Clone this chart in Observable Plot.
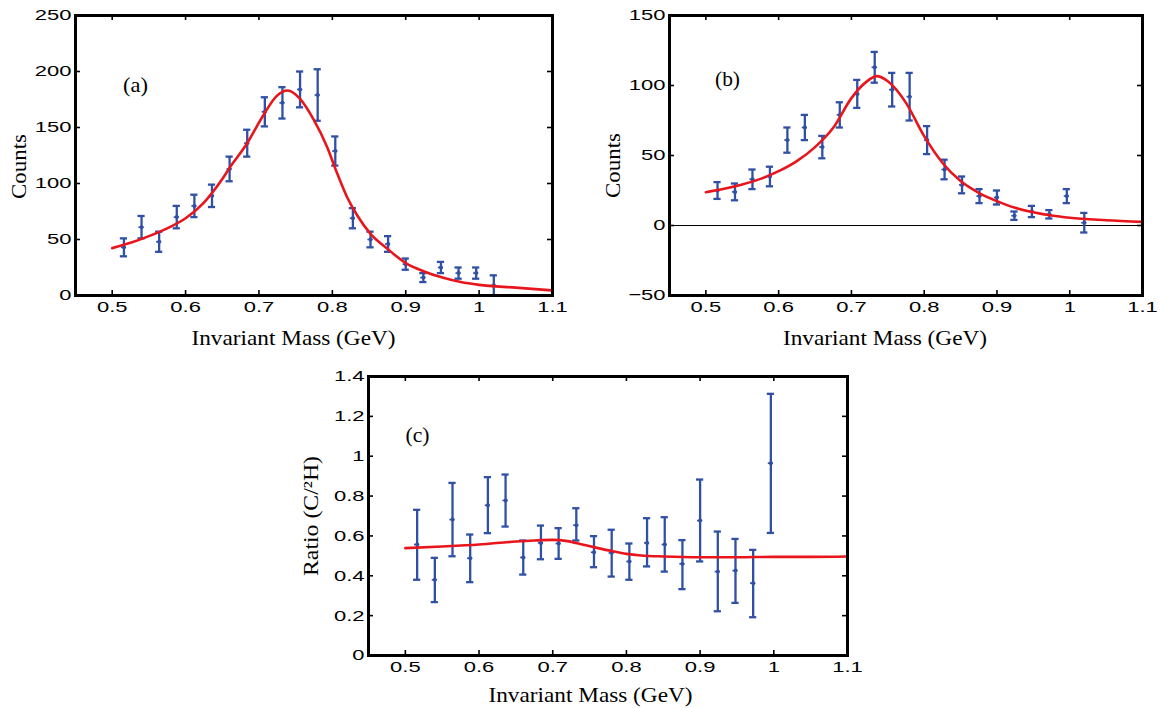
<!DOCTYPE html>
<html>
<head>
<meta charset="utf-8">
<script src="https://cdn.jsdelivr.net/npm/d3@7"></script>
<script src="https://cdn.jsdelivr.net/npm/@observablehq/plot@0.6"></script>
<style>
  html, body { margin: 0; padding: 0; background: #fff; }
  #wrap { position: relative; width: 1160px; height: 708px; overflow: hidden; background: #fff; }
  #wrap svg { position: absolute; overflow: visible; }
</style>
</head>
<body>
<div id="wrap"></div>
<script>
// ---------- data ----------
const massBins = [0.516, 0.540, 0.564, 0.588, 0.612, 0.636, 0.660, 0.684, 0.708, 0.732, 0.756,
                  0.780, 0.804, 0.828, 0.852, 0.876, 0.900, 0.924, 0.948, 0.972, 0.996, 1.020];

// (a) counts
const countsA = [43, 61, 48, 70, 80, 89, 113, 136, 164, 172, 184, 179, 129, 69, 50, 46, 28, 16, 25, 20, 20, 9];
const errA    = [8, 10, 9, 10, 10, 10, 11, 12, 13, 14, 16, 23, 13, 9, 7, 7, 5, 4, 5, 5, 5, 9];
const fitMassA   = [0.50, 0.525, 0.55, 0.575, 0.60, 0.625, 0.65, 0.66, 0.683, 0.706, 0.724, 0.739, 0.756, 0.774, 0.793, 0.806, 0.82, 0.834, 0.852, 0.875, 0.90, 0.925, 0.95, 0.975, 1.0, 1.05, 1.1];
const fitCountsA = [42.3, 47, 53, 60, 69, 83, 104, 114, 135, 161, 178, 183, 175.6, 157.7, 132.4, 110, 88, 71.4, 55, 41.7, 29, 21.5, 16, 12, 9.5, 7, 4.5];

// (b) counts
const countsB = [25, 24, 33, 35, 61, 70, 56, 79, 94, 113, 97, 92, 61, 40, 29, 21, 20, 7, 10, 8, 21, 2];
const errB    = [6, 6, 7, 7, 9, 9, 8, 9, 10, 11, 12, 17, 10, 7, 6, 5, 5, 3, 4, 3, 5, 7];
const fitMassB   = [0.50, 0.525, 0.55, 0.575, 0.60, 0.625, 0.65, 0.675, 0.70, 0.72, 0.735, 0.75, 0.775, 0.80, 0.825, 0.85, 0.875, 0.90, 0.925, 0.95, 0.975, 1.0, 1.05, 1.1];
const fitCountsB = [23.8, 26.2, 29.3, 33.3, 38.8, 46, 56, 69.8, 91, 102.4, 106.7, 103, 87.6, 63.8, 44.8, 31.7, 23.3, 17.4, 12.6, 9.5, 7.1, 5.5, 3.8, 2.6];

// (c) ratio C/2H
const ratioC     = [0.557, 0.380, 0.682, 0.488, 0.754, 0.778, 0.492, 0.565, 0.562, 0.654, 0.518, 0.515, 0.472, 0.565, 0.557, 0.460, 0.677, 0.421, 0.426, 0.363, 0.965];
const ratioLowC  = [0.380, 0.268, 0.498, 0.368, 0.614, 0.647, 0.406, 0.483, 0.485, 0.577, 0.443, 0.396, 0.380, 0.447, 0.421, 0.333, 0.472, 0.222, 0.264, 0.192, 0.615];
const ratioHighC = [0.731, 0.490, 0.866, 0.607, 0.895, 0.908, 0.577, 0.652, 0.639, 0.739, 0.599, 0.631, 0.562, 0.689, 0.694, 0.579, 0.883, 0.622, 0.585, 0.530, 1.313];
const fitMassC  = [0.50, 0.55, 0.60, 0.65, 0.675, 0.70, 0.72, 0.74, 0.76, 0.78, 0.80, 0.82, 0.85, 0.90, 0.95, 1.0, 1.05, 1.1];
const fitRatioC = [0.539, 0.547, 0.557, 0.572, 0.577, 0.580, 0.574, 0.557, 0.540, 0.524, 0.510, 0.502, 0.497, 0.493, 0.493, 0.495, 0.495, 0.497];

// ticks & labels
const xTicks  = [0.5, 0.6, 0.7, 0.8, 0.9, 1, 1.1];
const yTicksA = [0, 50, 100, 150, 200, 250];
const yTicksB = [-50, 0, 50, 100, 150];
const yTicksC = [0, 0.2, 0.4, 0.6, 0.8, 1, 1.2, 1.4];
const xLabel  = "Invariant Mass (GeV)";
const yLabelAB = "Counts";
const yLabelC  = "Ratio (C/²H)";
const tags = ["(a)", "(b)", "(c)"];

// ---------- style ----------
const BLUE = "#3050a6";
const RED = "#e8161c";
const SANS = "'Liberation Sans', Arial, Helvetica, sans-serif";
const SERIF = "'Liberation Serif', 'Times New Roman', serif";
const TICK_FS = 15.5;
const TICK_LEN = 5;
const fmt = d => (d < 0 ? "\u2212" + Math.abs(d) : String(d));

function makePanel(cfg) {
  const pts = cfg.x.map((x, i) => ({x, y: cfg.y[i], lo: cfg.lo[i], hi: cfg.hi[i]}));
  const fit = cfg.fx.map((x, i) => ({x, y: cfg.fy[i]}));
  const innerW = cfg.width - cfg.m[1] - cfg.m[3];
  const innerH = cfg.height - cfg.m[0] - cfg.m[2];
  const tickStyle = {stroke: "#000", strokeWidth: 1.6};
  const marks = [];
  if (cfg.zeroLine) marks.push(Plot.ruleY([0], {stroke: "#000", strokeWidth: 1}));
  marks.push(
    Plot.ruleX(pts, {x: "x", y1: "lo", y2: "hi", stroke: BLUE, strokeWidth: 2.3}),
    Plot.ruleY(pts, {y: "lo", x1: "x", x2: "x", insetLeft: -3.6, insetRight: -3.6, stroke: BLUE, strokeWidth: 2.3}),
    Plot.ruleY(pts, {y: "hi", x1: "x", x2: "x", insetLeft: -3.6, insetRight: -3.6, stroke: BLUE, strokeWidth: 2.3}),
    Plot.ruleY(pts, {y: "y", x1: "x", x2: "x", insetLeft: -2.6, insetRight: -2.6, stroke: BLUE, strokeWidth: 1.6}),
    Plot.dot(pts, {x: "x", y: "y", r: 2, fill: BLUE}),
    Plot.line(fit, {x: "x", y: "y", stroke: RED, strokeWidth: 2.6, curve: "monotone-x"}),
    // tick labels
    Plot.axisX(xTicks, {anchor: "bottom", tickSize: 0, tickPadding: 5, tickFormat: fmt, label: null, fontSize: TICK_FS}),
    Plot.axisY(cfg.yTicks, {anchor: "left", tickSize: 0, tickPadding: 4, tickFormat: fmt, label: null, fontSize: TICK_FS}),
    // inward ticks on all four sides
    Plot.ruleX(xTicks, {x: d => d, insetTop: innerH - TICK_LEN, ...tickStyle}),
    Plot.ruleX(xTicks, {x: d => d, insetBottom: innerH - TICK_LEN, ...tickStyle}),
    Plot.ruleY(cfg.yTicks, {y: d => d, insetRight: innerW - TICK_LEN, ...tickStyle}),
    Plot.ruleY(cfg.yTicks, {y: d => d, insetLeft: innerW - TICK_LEN, ...tickStyle}),
    Plot.text([cfg.tag], {text: d => d, frameAnchor: "top-left", textAnchor: "middle", dx: cfg.tagDx, dy: cfg.tagDy, fontFamily: SERIF, fontSize: 21}),
    Plot.text([xLabel], {text: d => d, frameAnchor: "bottom", textAnchor: "middle", dx: cfg.xlDx, dy: cfg.xlDy, fontFamily: SERIF, fontSize: 22}),
    Plot.text([cfg.yLabel], {text: d => d, frameAnchor: "left", textAnchor: "middle", rotate: -90, dx: cfg.ylDx, dy: cfg.ylDy, fontFamily: SERIF, fontSize: 22}),
    Plot.frame({stroke: "#000", strokeWidth: 3})
  );
  const svg = Plot.plot({
    width: cfg.width, height: cfg.height,
    marginLeft: cfg.m[3], marginRight: cfg.m[1], marginTop: cfg.m[0], marginBottom: cfg.m[2],
    x: {domain: [0.45, 1.1]},
    y: {domain: cfg.yDomain},
    style: {fontFamily: SANS, fontSize: TICK_FS + "px", color: "#000", background: "transparent", overflow: "visible"},
    marks
  });
  svg.style.left = cfg.left + "px";
  svg.style.top = cfg.top + "px";
  document.getElementById("wrap").appendChild(svg);
  // widen tick text to the reference's proportions
  svg.querySelectorAll('g[aria-label="x-axis tick label"] text, g[aria-label="y-axis tick label"] text').forEach(t => {
    const w = t.getComputedTextLength();
    if (w > 0) { t.setAttribute("textLength", (w * 1.42).toFixed(1)); t.setAttribute("lengthAdjust", "spacingAndGlyphs"); }
  });
  const widths = {"Invariant Mass (GeV)": 204, "Counts": 65, "Ratio (C/²H)": 120, "(a)": 25, "(b)": 25, "(c)": 24};
  svg.querySelectorAll("text").forEach(t => {
    const s = t.textContent;
    if (widths[s]) { t.setAttribute("textLength", widths[s]); t.setAttribute("lengthAdjust", "spacingAndGlyphs"); }
  });
}

makePanel({
  left: 0, top: 0, width: 575, height: 360, m: [15, 23, 65, 75],
  x: massBins, y: countsA, lo: countsA.map((v, i) => v - errA[i]), hi: countsA.map((v, i) => v + errA[i]),
  fx: fitMassA, fy: fitCountsA, yDomain: [0, 250], yTicks: yTicksA,
  tag: tags[0], tagDx: 60, tagDy: 62,
  xlDx: -20.5, xlDy: 49, yLabel: yLabelAB, ylDx: -57, ylDy: 11
});
makePanel({
  left: 590, top: 0, width: 570, height: 360, m: [15, 18, 65, 79],
  x: massBins, y: countsB, lo: countsB.map((v, i) => v - errB[i]), hi: countsB.map((v, i) => v + errB[i]),
  fx: fitMassB, fy: fitCountsB, yDomain: [-50, 150], yTicks: yTicksB, zeroLine: true,
  tag: tags[1], tagDx: 58, tagDy: 56,
  xlDx: -21, xlDy: 49, yLabel: yLabelAB, ylDx: -57, ylDy: 10
});
makePanel({
  left: 290, top: 360, width: 575, height: 348, m: [16, 18, 53, 78],
  x: massBins.slice(0, ratioC.length), y: ratioC, lo: ratioLowC, hi: ratioHighC,
  fx: fitMassC, fy: fitRatioC, yDomain: [0, 1.4], yTicks: yTicksC,
  tag: tags[2], tagDx: 49, tagDy: 51,
  xlDx: -17.5, xlDy: 46, yLabel: yLabelC, ylDx: -58, ylDy: 0
});
</script>
</body>
</html>
